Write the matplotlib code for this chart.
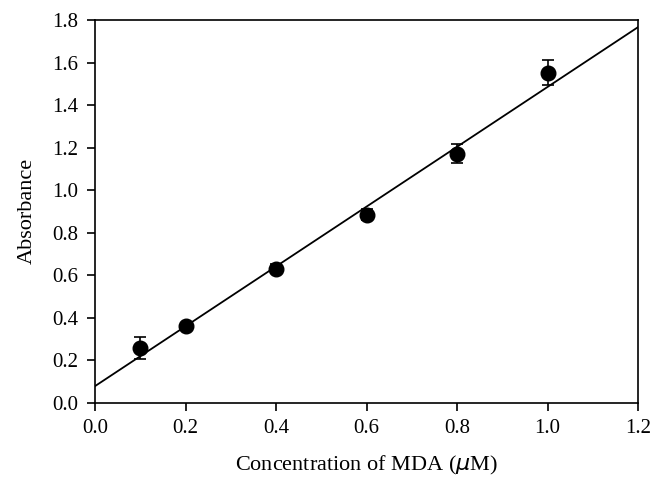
import numpy as np
import matplotlib.pyplot as plt

conc = [0.1, 0.2, 0.4, 0.6, 0.8, 1.0]
absorb = [0.259, 0.362, 0.630, 0.884, 1.172, 1.553]
err = [0.052, 0.012, 0.022, 0.025, 0.045, 0.057]
slope = 1.407
intercept = 0.078

plt.rcParams['font.family'] = ['Liberation Serif', 'DejaVu Serif']
plt.rcParams['font.size'] = 15

fig = plt.figure(figsize=(6.65, 4.88), dpi=100)
ax = fig.add_axes([0.1429, 0.1748, 0.8165, 0.7842])

xl = np.array([0.0, 1.2])
ax.plot(xl, intercept + slope * xl, color='black', lw=1.3)
ax.errorbar(conc, absorb, yerr=err, fmt='o', color='black', ms=10.5,
            capsize=4, elinewidth=1.2, capthick=1.2)

ax.set_xlim(0, 1.2)
ax.set_ylim(0, 1.8)
ax.set_xticks(np.arange(0, 1.21, 0.2))
ax.set_yticks(np.arange(0, 1.81, 0.2))
ax.xaxis.set_major_formatter(plt.FormatStrFormatter('%.1f'))
ax.yaxis.set_major_formatter(plt.FormatStrFormatter('%.1f'))
ax.tick_params(direction='out', length=6, width=1.2, labelsize=15)
ax.tick_params(axis='y', pad=6)
ax.tick_params(axis='x', pad=6)
for s in ax.spines.values():
    s.set_linewidth(1.2)

ax.set_xlabel(r'Concentration of MDA ($\mu$M)', fontsize=16, labelpad=11)
ax.set_ylabel('Absorbance', fontsize=16, labelpad=11)

fig.savefig('out.png', dpi=100)
